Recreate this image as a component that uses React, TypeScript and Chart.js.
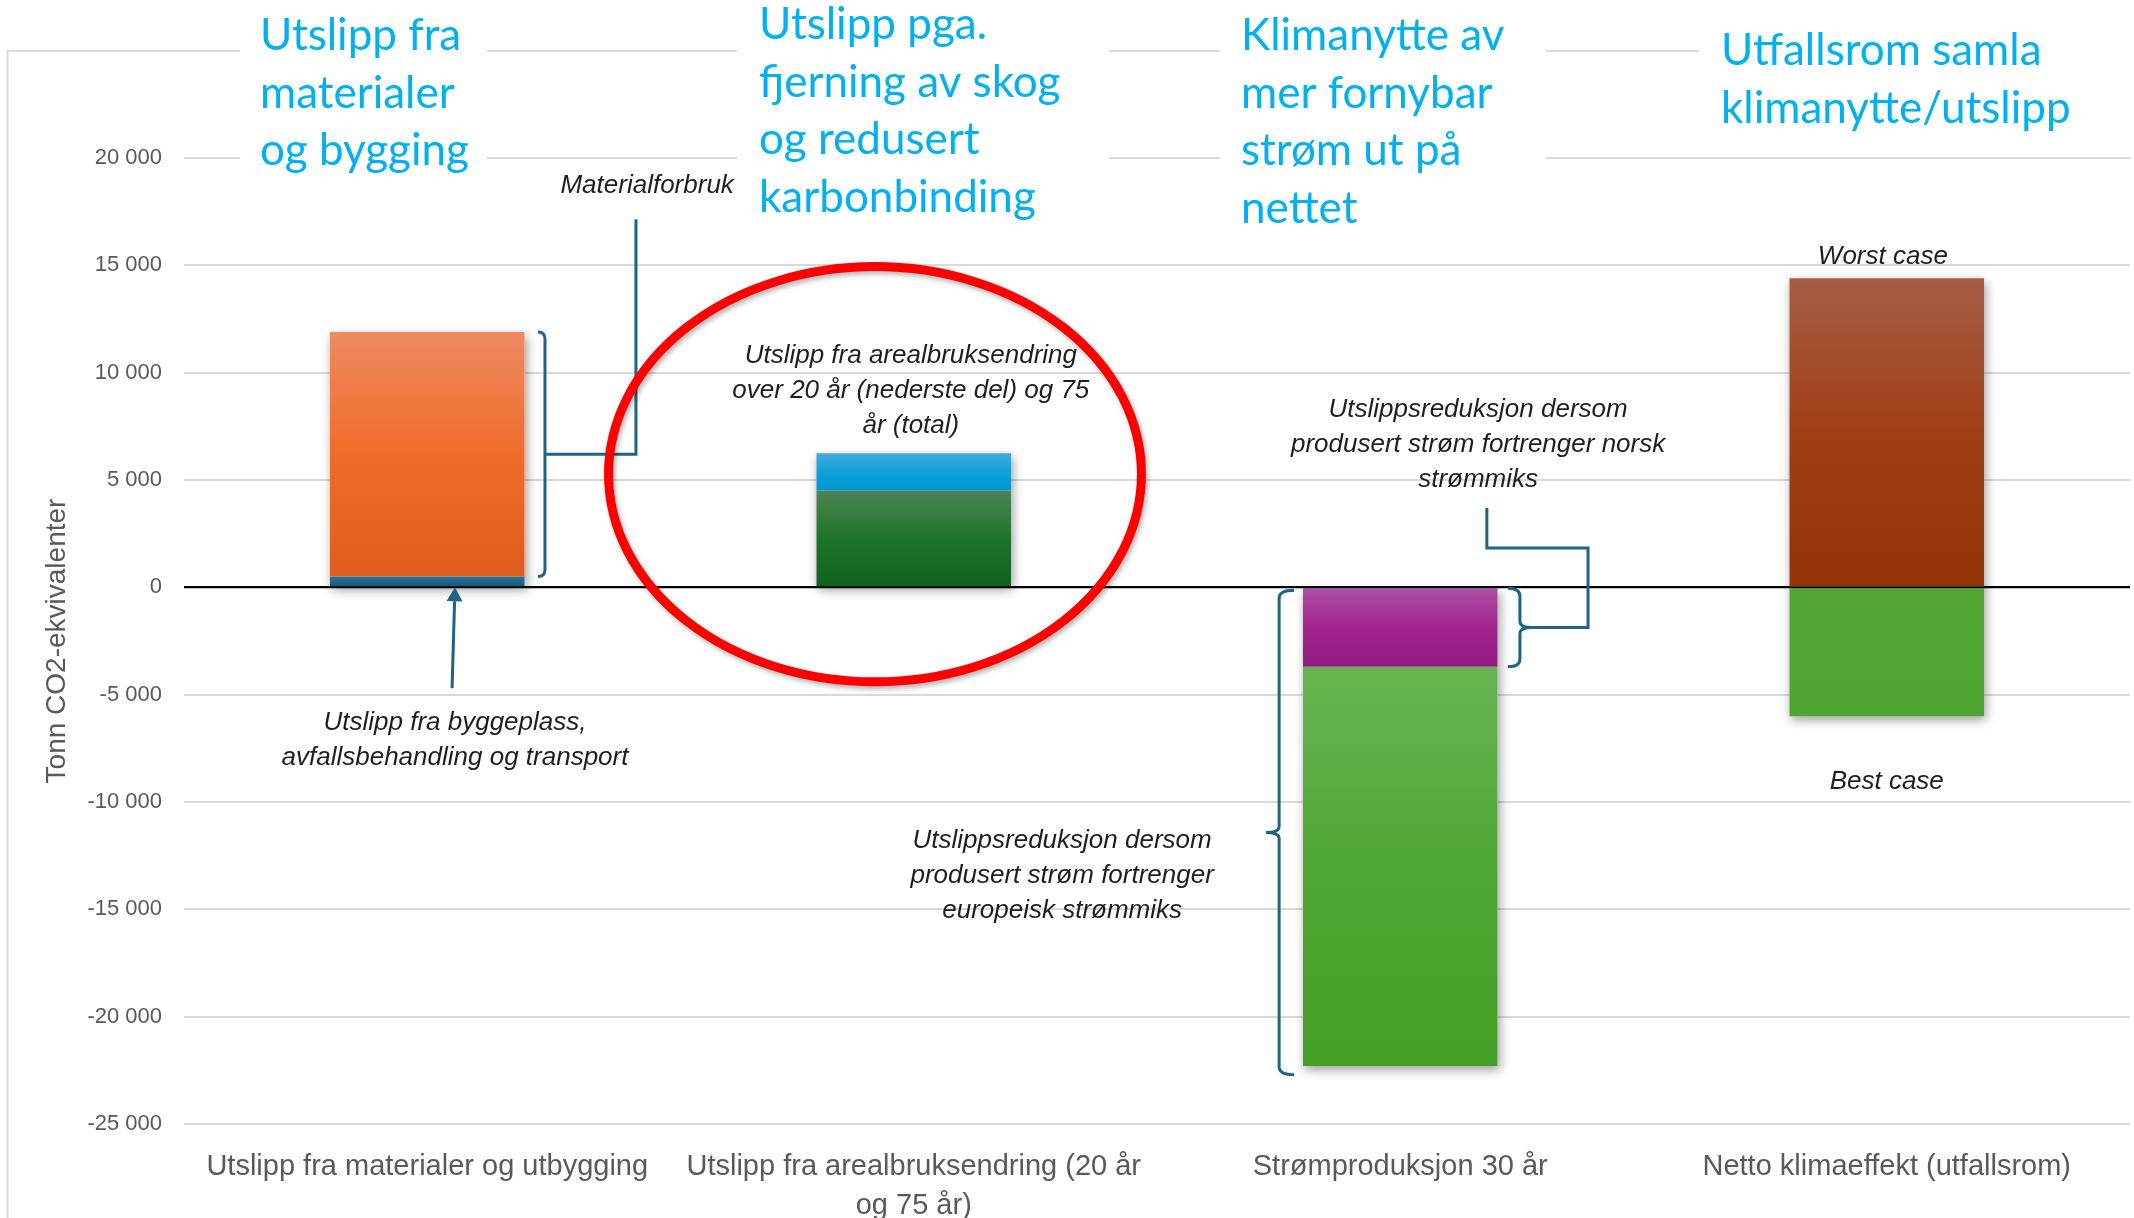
import React, { useEffect, useRef } from 'react';
import { Chart, registerables } from 'chart.js';

Chart.register(...registerables);

const W = 2134;
const H = 1218;

// ---------- data ----------
const categories: (string | string[])[] = [
  'Utslipp fra materialer og utbygging',
  ['Utslipp fra arealbruksendring (20 år', 'og 75 år)'],
  'Strømproduksjon 30 år',
  'Netto klimaeffekt (utfallsrom)',
];

const byggeplassTransport = [500, null, null, null];
const materialforbruk = [11400, null, null, null];
const arealbruk20aar = [null, 4500, null, null];
const arealbruk75aarTillegg = [null, 1750, null, null];
const norskStrommiks = [null, null, -3700, null];
const europeiskStrommiksTillegg = [null, null, -18600, null];
const worstCase = [null, null, null, 14400];
const bestCase = [null, null, null, -6000];

const yMin = -25000;
const yMax = 20000;
const yStep = 5000;

const seriesList: (number | null)[][] = [
  byggeplassTransport,
  materialforbruk,
  arealbruk20aar,
  arealbruk75aarTillegg,
  norskStrommiks,
  europeiskStrommiksTillegg,
  worstCase,
  bestCase,
];
const seriesNames = [
  'Byggeplass, avfall og transport',
  'Materialforbruk',
  'Arealbruksendring 20 år',
  'Arealbruksendring 75 år',
  'Norsk strømmiks',
  'Europeisk strømmiks',
  'Worst case',
  'Best case',
];

// ---------- styles ----------
type Stop = [number, string];
const seriesGradients: Stop[][] = [
  [[0, '#2E7398'], [1, '#13557B']],
  [[0, '#EE8A62'], [0.5, '#F06C2A'], [1, '#E05C1C']],
  [[0, '#4C8454'], [0.5, '#1E7328'], [1, '#0F6320']],
  [[0, '#40AAE0'], [0.6, '#0A9ED8'], [1, '#0096D0']],
  [[0, '#AC52A4'], [0.5, '#A2248F'], [1, '#931C84']],
  [[0, '#66B552'], [0.5, '#4FA734'], [1, '#43A026']],
  [[0, '#A65D44'], [0.5, '#A03E16'], [1, '#923406']],
  [[0, '#52A734'], [1, '#4FA532']],
];

const headings = [
  { lines: ['Utslipp fra', 'materialer', 'og bygging'], x: 260, y: 50, box: [240, 487, 178] },
  { lines: ['Utslipp pga.', 'fjerning av skog', 'og redusert', 'karbonbinding'], x: 759, y: 39, box: [737, 1109, 226] },
  { lines: ['Klimanytte av', 'mer fornybar', 'strøm ut på', 'nettet'], x: 1241, y: 50, box: [1220, 1546, 236] },
  { lines: ['Utfallsrom samla', 'klimanytte/utslipp'], x: 1721, y: 65, box: [1699, 2134, 140] },
];

// annotation texts, anchored in scale units [category index, value]
const notes: { lines: string[]; at: [number, number] }[] = [
  { lines: ['Materialforbruk'], at: [0.452, 18370] },
  { lines: ['Utslipp fra byggeplass,', 'avfallsbehandling og transport'], at: [0.057, -6650] },
  { lines: ['Utslipp fra arealbruksendring', 'over 20 år (nederste del) og 75', 'år (total)'], at: [0.994, 10450] },
  { lines: ['Utslippsreduksjon dersom', 'produsert strøm fortrenger norsk', 'strømmiks'], at: [2.16, 7930] },
  { lines: ['Utslippsreduksjon dersom', 'produsert strøm fortrenger', 'europeisk strømmiks'], at: [1.305, -12140] },
  { lines: ['Worst case'], at: [2.992, 15060] },
  { lines: ['Best case'], at: [3.0, -9400] },
];

const guides = {
  materialBracketX: 0.242,
  materialLeaderX: 0.429,
  materialLeaderTop: 17150,
  arrowFrom: [0.051, -4700] as [number, number],
  arrowTo: [0.057, 0] as [number, number],
  norskBraceX: 2.246,
  norskLeader: [[2.178, 3690], [2.178, 1830], [2.386, 1830]] as [number, number][],
  norskLeaderTurnX: 2.386,
  europeBraceX: 1.751,
  europeBottom: -22700,
  ellipse: { left: 0.3726, right: 1.468, top: 14940, bottom: -4400 },
};

const LINE_BLUE = '#1F6487';

function fmtTick(v: number) {
  const s = Math.abs(v).toString().replace(/\B(?=(\d{3})+(?!\d))/g, ' ');
  return (v < 0 ? '-' : '') + s;
}

function hasFont(name: string) {
  const c = document.createElement('canvas').getContext('2d');
  if (!c) return false;
  const s = 'mmmmmmmmmmlli1WQ0123456789 abcdefgh';
  c.font = '50px monospace';
  const a = c.measureText(s).width;
  c.font = `50px "${name}", monospace`;
  const b = c.measureText(s).width;
  c.font = '50px serif';
  const a2 = c.measureText(s).width;
  c.font = `50px "${name}", serif`;
  const b2 = c.measureText(s).width;
  return a !== b || a2 !== b2;
}

function segRange(d: number, i: number): [number, number] {
  const v = seriesList[d][i] ?? 0;
  let start = 0;
  for (let k = 0; k < d; k++) {
    const u = seriesList[k][i];
    if (u != null && Math.sign(u) === Math.sign(v)) start += u;
  }
  return [start, start + v];
}

function drawBracket(ctx: CanvasRenderingContext2D, x: number, yTop: number, yBot: number, hookDx: number, tipDx: number) {
  const r = Math.min(Math.abs(hookDx), 8);
  const yMid = (yTop + yBot) / 2;
  ctx.beginPath();
  ctx.moveTo(x + hookDx, yTop);
  ctx.quadraticCurveTo(x, yTop, x, yTop + r);
  if (tipDx !== 0) {
    ctx.lineTo(x, yMid - 6);
    ctx.quadraticCurveTo(x, yMid, x + tipDx, yMid);
    ctx.quadraticCurveTo(x, yMid, x, yMid + 6);
  }
  ctx.lineTo(x, yBot - r);
  ctx.quadraticCurveTo(x, yBot, x + hookDx, yBot);
  ctx.stroke();
}

export default function App() {
  const ref = useRef<HTMLCanvasElement>(null);

  useEffect(() => {
    document.body.style.margin = '0';
    const canvas = ref.current;
    if (!canvas) return;

    const narrow = hasFont('Liberation Sans Narrow');
    const axisFamily = narrow
      ? '"Liberation Sans Narrow", "Liberation Sans", Arial, sans-serif'
      : '"Liberation Sans", Arial, sans-serif';
    const xSize = narrow ? 34 : 29;
    const tickSize = narrow ? 26 : 22;
    const titleSize = narrow ? 34 : 28;
    const axisColor = '#595959';

    const datasets = seriesList.map((data, d) => ({
      label: seriesNames[d],
      data,
      stack: 'all',
      barPercentage: 1,
      categoryPercentage: 0.4,
      borderWidth: 0,
      backgroundColor: (c: any) => {
        const stops = seriesGradients[d];
        if (c.type !== 'data') return stops[0][1];
        const ys = c.chart.scales?.y;
        if (!ys) return stops[0][1];
        const [a, b] = segRange(d, c.dataIndex);
        const top = ys.getPixelForValue(Math.max(a, b));
        const bot = ys.getPixelForValue(Math.min(a, b));
        if (!isFinite(top) || !isFinite(bot) || bot - top < 1) return stops[0][1];
        const g = c.chart.ctx.createLinearGradient(0, top, 0, bot);
        stops.forEach(([o, col]) => g.addColorStop(o, col));
        return g;
      },
    }));

    const overlay = {
      id: 'overlay',
      beforeDraw(chart: any) {
        const ctx = chart.ctx as CanvasRenderingContext2D;
        ctx.save();
        ctx.fillStyle = '#ffffff';
        ctx.fillRect(0, 0, W, H);
        ctx.strokeStyle = '#D9D9D9';
        ctx.lineWidth = 2;
        ctx.beginPath();
        ctx.moveTo(7.5, H);
        ctx.lineTo(7.5, 51);
        ctx.lineTo(W, 51);
        ctx.stroke();
        ctx.restore();
      },
      beforeDatasetsDraw(chart: any) {
        const ctx = chart.ctx as CanvasRenderingContext2D;
        const n = chart.data.labels.length;
        for (let i = 0; i < n; i++) {
          let top = Infinity;
          let bottom = -Infinity;
          let left = 0;
          let width = 0;
          chart.data.datasets.forEach((ds: any, d: number) => {
            if (ds.data[i] == null) return;
            const el = chart.getDatasetMeta(d).data[i];
            if (!el) return;
            const p = el.getProps(['x', 'y', 'base', 'width'], true);
            if (!isFinite(p.y) || !isFinite(p.base)) return;
            top = Math.min(top, p.y, p.base);
            bottom = Math.max(bottom, p.y, p.base);
            left = p.x - p.width / 2;
            width = p.width;
          });
          if (!isFinite(top)) continue;
          ctx.save();
          ctx.shadowColor = 'rgba(0,0,0,0.38)';
          ctx.shadowBlur = 10;
          ctx.shadowOffsetX = 2;
          ctx.shadowOffsetY = 4;
          ctx.fillStyle = '#ffffff';
          ctx.fillRect(left, top, width, bottom - top);
          ctx.restore();
        }
      },
      afterDatasetsDraw(chart: any) {
        const ctx = chart.ctx as CanvasRenderingContext2D;
        const y0 = chart.scales.y.getPixelForValue(0);
        ctx.save();
        ctx.strokeStyle = '#000000';
        ctx.lineWidth = 2;
        ctx.beginPath();
        ctx.moveTo(chart.chartArea.left, y0);
        ctx.lineTo(chart.chartArea.right, y0);
        ctx.stroke();
        ctx.restore();
      },
      afterDraw(chart: any) {
        const ctx = chart.ctx as CanvasRenderingContext2D;
        const X = (v: number) => chart.scales.x.getPixelForValue(v);
        const Y = (v: number) => chart.scales.y.getPixelForValue(v);
        ctx.save();

        // heading boxes + headings
        for (const h of headings) {
          ctx.fillStyle = '#ffffff';
          ctx.fillRect(h.box[0], 0, h.box[1] - h.box[0], h.box[2]);
        }
        ctx.fillStyle = '#00B0F0';
        ctx.font = '44px Lato, "Open Sans", sans-serif';
        ctx.textAlign = 'left';
        ctx.textBaseline = 'alphabetic';
        for (const h of headings) {
          h.lines.forEach((line, j) => ctx.fillText(line, h.x, h.y + j * 57.5));
        }

        // leader lines and brackets
        ctx.strokeStyle = LINE_BLUE;
        ctx.lineWidth = 3;
        ctx.lineJoin = 'miter';
        ctx.lineCap = 'butt';

        // material bracket
        const matTop = Y((byggeplassTransport[0] ?? 0) + (materialforbruk[0] ?? 0));
        const matBot = Y(byggeplassTransport[0] ?? 0);
        const bx = X(guides.materialBracketX);
        drawBracket(ctx, bx, matTop, matBot, -7, 0);
        const matMid = (matTop + matBot) / 2;
        ctx.beginPath();
        ctx.moveTo(bx, matMid);
        ctx.lineTo(X(guides.materialLeaderX), matMid);
        ctx.lineTo(X(guides.materialLeaderX), Y(guides.materialLeaderTop));
        ctx.stroke();

        // arrow
        const ax0 = X(guides.arrowFrom[0]);
        const ay0 = Y(guides.arrowFrom[1]);
        const ax1 = X(guides.arrowTo[0]);
        const ay1 = Y(guides.arrowTo[1]);
        const ang = Math.atan2(ay1 - ay0, ax1 - ax0);
        const headLen = 14;
        const headHalf = 8;
        const hx = ax1 - headLen * Math.cos(ang);
        const hy = ay1 - headLen * Math.sin(ang);
        ctx.beginPath();
        ctx.moveTo(ax0, ay0);
        ctx.lineTo(hx, hy);
        ctx.stroke();
        ctx.fillStyle = LINE_BLUE;
        ctx.beginPath();
        ctx.moveTo(ax1, ay1);
        ctx.lineTo(hx + headHalf * Math.sin(ang), hy - headHalf * Math.cos(ang));
        ctx.lineTo(hx - headHalf * Math.sin(ang), hy + headHalf * Math.cos(ang));
        ctx.closePath();
        ctx.fill();

        // norsk brace + leader
        const nTop = Y(0) + 1;
        const nBot = Y(norskStrommiks[2] ?? 0);
        const nx = X(guides.norskBraceX);
        drawBracket(ctx, nx, nTop, nBot, -12, 12);
        const nMid = (nTop + nBot) / 2;
        ctx.beginPath();
        guides.norskLeader.forEach(([gx, gy], j) => {
          if (j === 0) ctx.moveTo(X(gx), Y(gy));
          else ctx.lineTo(X(gx), Y(gy));
        });
        ctx.lineTo(X(guides.norskLeaderTurnX), nMid);
        ctx.lineTo(nx + 12, nMid);
        ctx.stroke();

        // europeisk brace
        const eTop = Y(0) + 3;
        const eBot = Y(guides.europeBottom);
        drawBracket(ctx, X(guides.europeBraceX), eTop, eBot, 15, -13);

        // notes
        ctx.fillStyle = '#1E1E1E';
        ctx.font = 'italic 26px "Liberation Sans", Arial, sans-serif';
        ctx.textAlign = 'center';
        for (const n of notes) {
          const tx = X(n.at[0]);
          const ty = Y(n.at[1]);
          n.lines.forEach((line, j) => ctx.fillText(line, tx, ty + j * 35));
        }

        // red ellipse
        const e = guides.ellipse;
        const el = X(e.left);
        const er = X(e.right);
        const et = Y(e.top);
        const eb = Y(e.bottom);
        ctx.shadowColor = 'rgba(0,0,0,0.3)';
        ctx.shadowBlur = 5;
        ctx.shadowOffsetX = 2;
        ctx.shadowOffsetY = 3;
        ctx.strokeStyle = '#FF0000';
        ctx.lineWidth = 9;
        ctx.beginPath();
        ctx.ellipse((el + er) / 2, (et + eb) / 2, (er - el) / 2, (eb - et) / 2, 0, 0, Math.PI * 2);
        ctx.stroke();
        ctx.restore();
      },
    };

    const chart = new Chart(canvas, {
      type: 'bar',
      data: { labels: categories as any, datasets: datasets as any },
      options: {
        responsive: false,
        animation: false,
        devicePixelRatio: 1,
        layout: { padding: { top: 158, right: 4, bottom: 0, left: 0 } },
        plugins: {
          legend: { display: false },
          tooltip: { enabled: false },
          title: { display: false },
        },
        scales: {
          x: {
            stacked: true,
            grid: { display: false },
            border: { display: false },
            ticks: {
              color: axisColor,
              font: { family: axisFamily, size: xSize, lineHeight: 39 / xSize },
              padding: 15,
              maxRotation: 0,
              minRotation: 0,
              autoSkip: false,
            },
            afterFit: (s: any) => {
              s.height = 94;
            },
          },
          y: {
            stacked: true,
            min: yMin,
            max: yMax,
            ticks: {
              stepSize: yStep,
              color: axisColor,
              font: { family: axisFamily, size: tickSize },
              padding: 22,
              callback: (v: any) => fmtTick(Number(v)),
            },
            grid: {
              color: (c: any) => (c.tick && c.tick.value === 0 ? '#000000' : '#D9D9D9'),
              lineWidth: 2,
              drawTicks: false,
            },
            border: { display: false },
            title: {
              display: true,
              text: 'Tonn CO2-ekvivalenter',
              color: axisColor,
              font: { family: axisFamily, size: titleSize, lineHeight: 1.2 },
              padding: { top: 40, bottom: 0 },
            },
            afterFit: (s: any) => {
              s.width = 184;
            },
          },
        },
      } as any,
      plugins: [overlay],
    });

    return () => chart.destroy();
  }, []);

  return (
    <div style={{ width: W, height: H, position: 'relative', background: '#fff' }}>
      <canvas ref={ref} width={W} height={H} style={{ display: 'block', width: W, height: H }} />
    </div>
  );
}
